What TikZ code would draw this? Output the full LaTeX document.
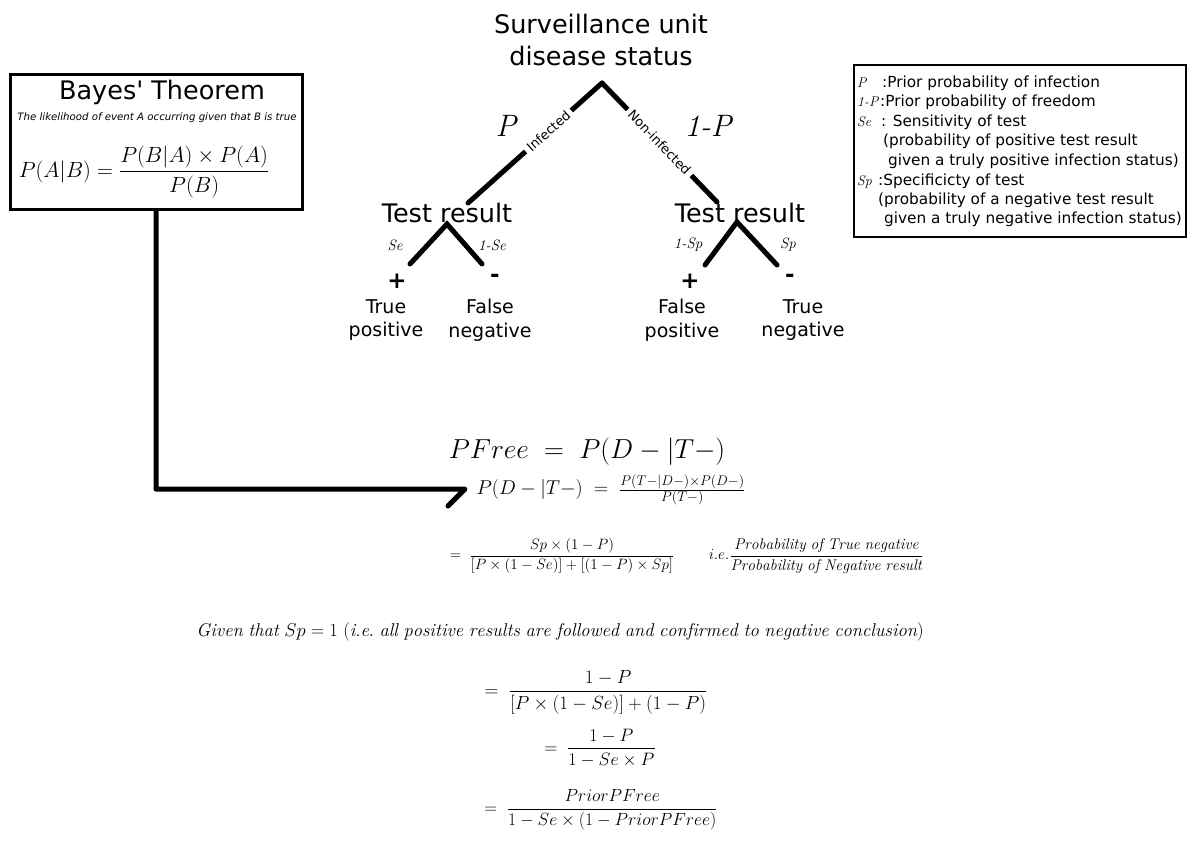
\RequirePackage{fix-cm}
\documentclass[tikz,border=0pt]{standalone}
\usepackage{amsmath}
\usepackage{fontspec}
\setsansfont{DejaVu Sans}
\usetikzlibrary{arrows.meta,positioning}

\newcommand{\fsz}[1]{\fontsize{#1}{1.25\dimexpr #1pt\relax}\selectfont}

\begin{document}
\begin{tikzpicture}[x=1pt,y=-1pt,
    branch/.style={line width=5pt,line cap=round},
    headtxt/.style={font=\sffamily\fsz{25.5},align=center,inner sep=0pt},
    outtxt/.style={font=\sffamily\fsz{19},align=center,inner sep=0pt},
    signtxt/.style={font=\sffamily\bfseries\fsz{23},inner sep=0pt},
    edgetxt/.style={font=\sffamily\fsz{13},sloped,fill=white,inner sep=4pt},
    problab/.style={font=\fsz{31}\itshape,inner sep=0pt},
    sublab/.style={font=\fsz{15}\itshape,inner sep=0pt},
    legtxt/.style={font=\sffamily\fsz{15.3},anchor=base west,inner sep=0pt},
    leglab/.style={font=\fsz{14}\itshape,anchor=base west,inner sep=0pt},
    frame/.style={draw,line width=3pt,inner sep=0pt}]
\useasboundingbox (0,0) rectangle (1188,848);

% decision tree
\node[headtxt,text depth=0pt] (status) at (601,40) {Surveillance unit\\disease status};
\coordinate (apex) at (602,83);
\coordinate (infend) at (468,203);
\coordinate (nonend) at (717,202);
\draw[branch] (apex) -- node[edgetxt,pos=0.4] {Infected} (infend);
\draw[branch] (apex) -- node[edgetxt,pos=0.5] {Non-infected} (nonend);
\node[problab] (pinf) at (506,126) {P};
\node[problab] (pnon) at (708,126) {1-P};

\node[headtxt] (testl) at (447,213) {Test result};
\node[headtxt] (testr) at (740,213) {Test result};
\coordinate (lsub) at (447,224);
\coordinate (rsub) at (737,222);
\coordinate (tpend) at (410,264);
\coordinate (fnend) at (482,264);
\coordinate (fpend) at (705,265);
\coordinate (tnend) at (777,265);
\draw[branch] (tpend) -- (lsub) -- (fnend);
\draw[branch] (fpend) -- (rsub) -- (tnend);
\node[sublab] (se) at (395,245) {Se};
\node[sublab] (nse) at (492,245) {1-Se};
\node[sublab] (nsp) at (688,245) {1-Sp};
\node[sublab] (sp) at (788,245) {Sp};

\node[signtxt] (tpsign) at (397,281) {+};
\node[signtxt] (fnsign) at (495,278) {-};
\node[signtxt] (fpsign) at (690,281) {+};
\node[signtxt] (tnsign) at (790,278) {-};
\node[outtxt] (tp) at (386,320) {True\\positive};
\node[outtxt] (fn) at (490,320) {False\\negative};
\node[outtxt] (fp) at (682,320) {False\\positive};
\node[outtxt] (tn) at (803,320) {True\\negative};

% Bayes box
\node[frame,minimum width=292,minimum height=134] (bayes) at (156,142) {};
\node[headtxt] (btitle) at (162,92) {Bayes\textquotesingle\ Theorem};
\node[font=\sffamily\fsz{10.2}\itshape,inner sep=0pt] (bsub) at (157,118)
    {The likelihood of event A occurring given that B is true};
\node[font=\fsz{22},inner sep=0pt] (beq) at (144,172)
    {$P(A|B) = \dfrac{P(B|A)\times P(A)}{P(B)}$};
\coordinate (elbowend) at (465,489);
\draw[line width=5pt,line join=round,line cap=round] (bayes.south) |- (elbowend) -- ++(-17,17);

% legend
\node[frame,line width=2.5pt,minimum width=332,minimum height=172] (legend) at (1020,151) {};
\foreach \y/\x/\t [count=\i] in {88/882/{:Prior probability of infection},
    107/880/{:Prior probability of freedom},
    127/881/{: Sensitivity of test},
    146/883/{(probability of positive test result},
    165/888/{given a truly positive infection status)},
    185/878/{:Specificicty of test},
    204/878/{(probability of a negative test result},
    223/884/{given a truly negative infection status)}}
  \node[legtxt] (leg\i) at (\x,\y) {\t};
\foreach \y/\t [count=\i] in {88/P,107/1-P,127/Se,185/Sp}
  \node[leglab] (key\i) at (857,\y) {\t};

% PFree derivation
\node[font=\fsz{27.5}] (pfree) at (587,452) {$PFree \;=\; P(D-|T-)$};
\node[font=\fsz{20}] (bayesd) at (611,490)
    {$P(D-|T-) \;=\; \frac{P(T-|D-)\times P(D-)}{P(T-)}$};
\node[font=\fsz{15}] (step1) at (562,556)
    {$=\;\dfrac{Sp\times(1-P)}{[P\times(1-Se)]+[(1-P)\times Sp]}$};
\node[font=\fsz{15.5}] (ie) at (816,556)
    {$i.e.\dfrac{\mathit{Probability\ of\ True\ negative}}{\mathit{Probability\ of\ Negative\ result}}$};
\node[font=\fsz{18.5}] (given) at (560,632)
    {$\mathit{Given\ that}\ Sp = 1\ (\mathit{i.e.\ all\ positive\ results\ are\ followed\ and\ confirmed\ to\ negative\ conclusion})$};
\node[font=\fsz{19}] (step2) at (596,692)
    {$=\;\dfrac{1-P}{[P\times(1-Se)]+(1-P)}$};
\node[font=\fsz{18}] (step3) at (600,748)
    {$=\;\dfrac{1-P}{1-Se\times P}$};
\node[font=\fsz{17.6}] (step4) at (601,810)
    {$=\;\dfrac{PriorPFree}{1-Se\times(1-PriorPFree)}$};
\end{tikzpicture}
\end{document}
